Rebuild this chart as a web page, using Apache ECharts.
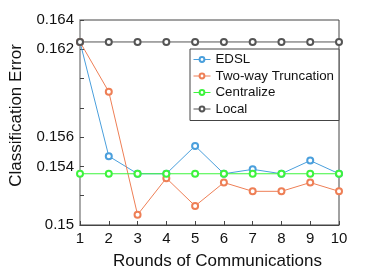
<!DOCTYPE html>
<html><head><meta charset="utf-8">
<script src="https://cdn.jsdelivr.net/npm/echarts@6/dist/echarts.min.js"></script>
<style>html,body{margin:0;padding:0;background:#fff}#c{width:382px;height:277px}</style>
</head><body><div id="c"></div>
<script>
var rounds = [1,2,3,4,5,6,7,8,9,10];
var edsl = [0.1625,0.1547,0.1535,0.1535,0.1554,0.1535,0.1538,0.1535,0.1544,0.1535];
var twoWay = [0.1625,0.1591,0.1507,0.1532,0.1513,0.1529,0.1523,0.1523,0.1529,0.1523];
var centralize = [0.1535,0.1535,0.1535,0.1535,0.1535,0.1535,0.1535,0.1535,0.1535,0.1535];
var local = [0.1625,0.1625,0.1625,0.1625,0.1625,0.1625,0.1625,0.1625,0.1625,0.1625];
var yLabels = {150:'0.15',154:'0.154',156:'0.156',162:'0.162',164:'0.164'};
var names = ['EDSL','Two-way Truncation','Centralize','Local'];
var colors = ['#4a9fdc','#ee7f56','#3df43d','#555555'];

function pairs(arr){ return arr.map(function(v,i){ return [rounds[i], v]; }); }
var chart = echarts.init(document.getElementById('c'));
var font = 'Liberation Sans, Arial, sans-serif';
var datas = [edsl, twoWay, centralize, local];
chart.setOption({
  animation:false,
  grid:{left:76,right:43,top:20,bottom:52,show:true,borderColor:'#444',borderWidth:1},
  legend:{
    orient:'vertical', left:190, top:49, data:names,
    itemWidth:17, itemHeight:6, itemGap:3.5,
    padding:[4,5,5,3],
    borderColor:'#444', borderWidth:1, backgroundColor:'#fff',
    itemStyle:{borderWidth:1},
    lineStyle:{width:1},
    textStyle:{fontFamily:font,fontSize:13.3,color:'#111',lineHeight:13}
  },
  xAxis:{
    type:'value', min:1, max:10, interval:1,
    name:'Rounds of Communications', nameLocation:'middle', nameGap:28,
    nameTextStyle:{fontFamily:font,fontSize:17,color:'#111',padding:[0,0,0,16]},
    axisLine:{lineStyle:{color:'#444',width:1}},
    axisTick:{inside:true,length:4,lineStyle:{color:'#444'}},
    axisLabel:{fontFamily:font,fontSize:15,color:'#111',margin:6},
    splitLine:{show:false}
  },
  yAxis:{
    type:'value', min:0.15, max:0.164, interval:0.002,
    name:'Classification Error', nameLocation:'middle', nameGap:55,
    nameTextStyle:{fontFamily:font,fontSize:17,color:'#111',padding:[0,0,0,14]},
    axisLine:{lineStyle:{color:'#aaa',width:2}},
    axisTick:{inside:true,length:4,lineStyle:{color:'#444'}},
    axisLabel:{fontFamily:font,fontSize:15,color:'#111',margin:6,
      formatter:function(v){ var k=Math.round(v*1000); return yLabels[k]||''; }},
    splitLine:{show:false}
  },
  series: names.map(function(n,i){
    return {name:n,type:'line',data:pairs(datas[i]),symbol:'emptyCircle',symbolSize:6,
      lineStyle:{color:colors[i],width:1},itemStyle:{color:colors[i],borderWidth:0.8},z:2+i};
  })
});
</script></body></html>
